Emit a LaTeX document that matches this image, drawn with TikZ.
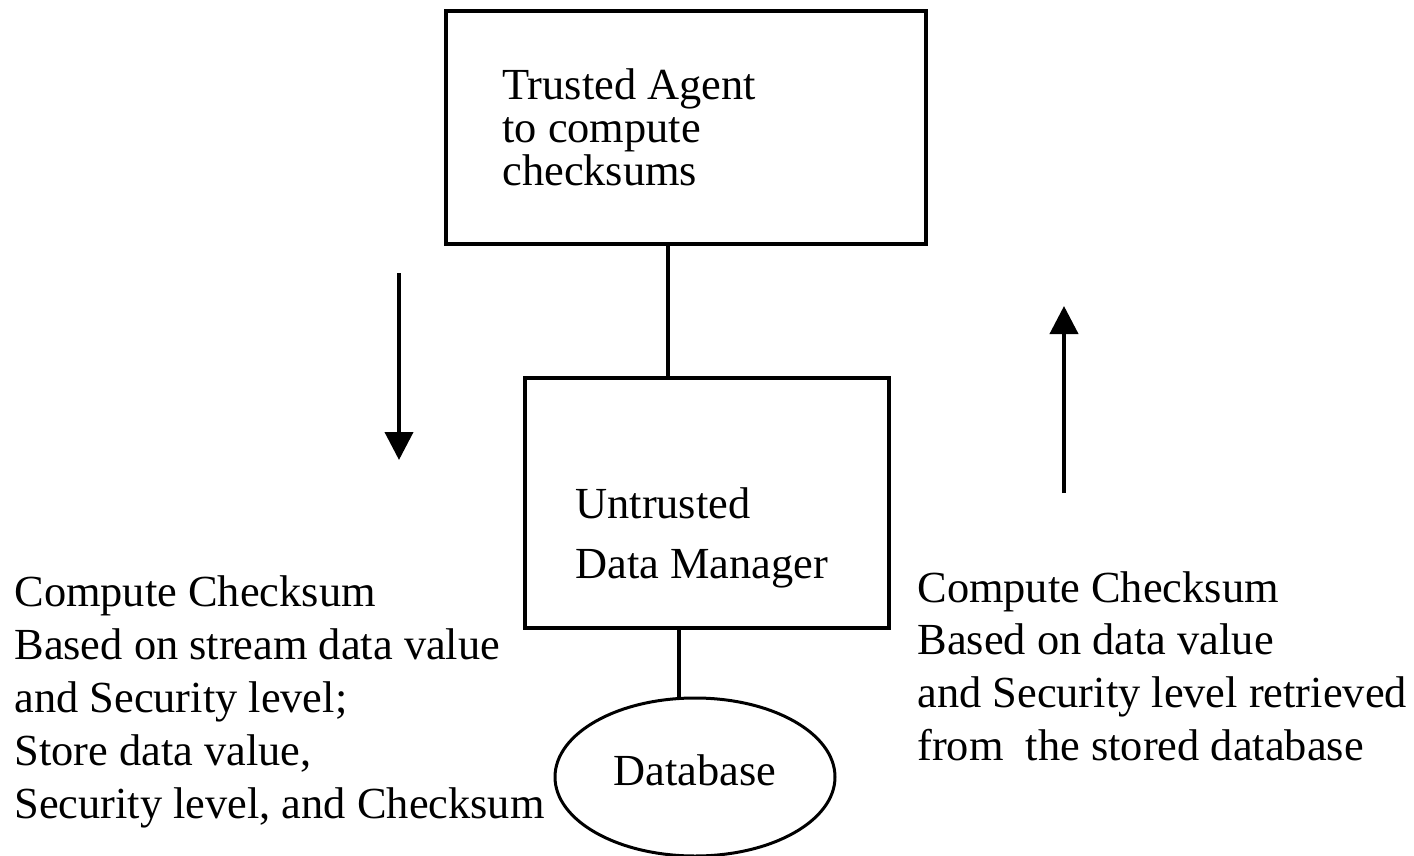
\documentclass[tikz,border=0pt]{standalone}
\usepackage{fontspec}
\setmainfont{Liberation Serif}
\usetikzlibrary{arrows.meta,shapes.geometric}
\begin{document}
\begin{tikzpicture}[x=0.5pt,y=-0.5pt,
  box/.style={draw,line width=1.75pt,minimum width=#1,inner sep=0pt},
  txt/.style={anchor=base west,inner sep=0pt,align=left},
  link/.style={line width=1.6pt},
  flow/.style={line width=2pt,-{Triangle[width=14pt,length=14pt]}},
  every node/.style={font=\fontsize{22.2}{26.5}\selectfont}]
\useasboundingbox (0,0) rectangle (1414,856);

% boxes and store
\node[box=240pt,minimum height=116.5pt] (ta) at (686,127.5) {};
\node[box=182pt,minimum height=125pt] (dm) at (707,503) {};
\node[draw,ellipse,line width=1.5pt,minimum width=140pt,minimum height=79pt,
      inner sep=0pt,text height=8pt,text depth=0pt] (db) at (695,777) {Database};

% box captions (anchored at the baseline of their last line)
\node[txt,font=\fontsize{22.2}{21.4}\selectfont] (tat) at (502,185)
  {Trusted Agent\\to compute\\checksums};
\node[txt,font=\fontsize{22.2}{30}\selectfont] (dmt) at (575,578)
  {Untrusted\\Data Manager};

% side notes
\node[txt] (lt) at (14,818)
  {Compute Checksum\\Based on stream data value\\and Security level;\\Store data value,\\Security level, and Checksum};
\node[txt,font=\fontsize{22.2}{26.3}\selectfont] (rt) at (917,760)
  {Compute Checksum\\Based on data value\\and Security level retrieved\\from~ the stored database};

% links
\coordinate (k1) at (668,0);
\coordinate (k2) at (679,0);
\draw[link] (ta.south -| k1) -- (dm.north -| k1);
\draw[link] (dm.south -| k2) -- (db.north -| k2);

% direction arrows
\coordinate (d0) at (399,273);
\coordinate (d1) at (399,460);
\coordinate (u0) at (1064,493);
\coordinate (u1) at (1064,306);
\draw[flow] (d0) -- (d1);
\draw[flow] (u0) -- (u1);
\end{tikzpicture}
\end{document}
